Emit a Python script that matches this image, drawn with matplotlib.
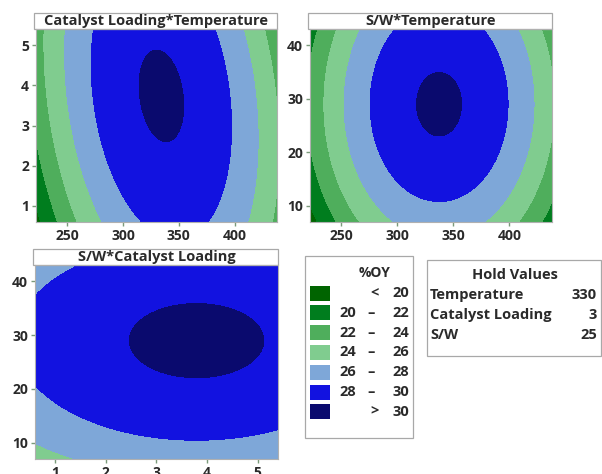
"""
Contour plots of %OY (Minitab-style) for pairs of factors, third factor held.
"""

import numpy as np
import matplotlib.pyplot as plt
from matplotlib.patches import Rectangle

W, H = 602, 474
plt.rcParams['font.family'] = ['Open Sans', 'DejaVu Sans']

# factor ranges shown on the axes
TEMP_RANGE = [222, 438]
CAT_RANGE = [0.6, 5.4]
SW_RANGE = [7, 43]

# coding: centre point and half-width of each factor
CENTER = {"T": 330, "C": 3.0, "S": 25}
SCALE = {"T": 100, "C": 2.4, "S": 18}

# hold values
HOLD_NAMES = ["Temperature", "Catalyst Loading", "S/W"]
HOLD_VALUES = [330, 3, 25]

# quadratic response surface for %OY (coded units)
B0 = 30.1
LINEAR = {"T": 0.85, "C": 0.693, "S": 0.97}
QUAD = {"T": -5.9, "C": -1.05, "S": -2.2}
INTER = {"TC": -1.09, "TS": 0.0, "CS": 0.0}

LEVELS = [20, 22, 24, 26, 28, 30]
COLORS = ["#006400", "#007d1e", "#4fae5c", "#80cc8f", "#7ea7d8", "#1212e0", "#0a0a6e"]
LEG_LO = ["", "20", "22", "24", "26", "28", ""]
LEG_SEP = ["<", "–", "–", "–", "–", "–", ">"]
LEG_HI = ["20", "22", "24", "26", "28", "30", "30"]

TEMP_TICKS = [250, 300, 350, 400]
CAT_TICKS = [1, 2, 3, 4, 5]
SW_TICKS = [10, 20, 30, 40]

TXT = "#2a2a2a"


def oy(T, C, S):
    t = (T - CENTER["T"]) / SCALE["T"]
    c = (C - CENTER["C"]) / SCALE["C"]
    s = (S - CENTER["S"]) / SCALE["S"]
    return (B0 + LINEAR["T"] * t + LINEAR["C"] * c + LINEAR["S"] * s
            + QUAD["T"] * t**2 + QUAD["C"] * c**2 + QUAD["S"] * s**2
            + INTER["TC"] * t * c + INTER["TS"] * t * s + INTER["CS"] * c * s)


def fx(px):
    return px / W


def fy(py):
    return 1 - py / H


fig = plt.figure(figsize=(W / 100, H / 100), dpi=100)

# (title, x-range, y-range, x ticks, y ticks, surface fn, box in px: x0, x1, ytop, ybot)
panels = [
    ("Catalyst Loading*Temperature", TEMP_RANGE, CAT_RANGE, TEMP_TICKS, CAT_TICKS,
     lambda X, Y: oy(X, Y, HOLD_VALUES[2]), (36, 277, 29, 222)),
    ("S/W*Temperature", TEMP_RANGE, SW_RANGE, TEMP_TICKS, SW_TICKS,
     lambda X, Y: oy(X, HOLD_VALUES[1], Y), (310, 552, 29, 222)),
    ("S/W*Catalyst Loading", CAT_RANGE, SW_RANGE, CAT_TICKS, SW_TICKS,
     lambda X, Y: oy(HOLD_VALUES[0], X, Y), (35, 278, 265, 459)),
]

bounds = [-100] + LEVELS + [100]
for title, xr, yr, xt, yt, fn, (x0, x1, yt0, yb0) in panels:
    ax = fig.add_axes([fx(x0), fy(yb0), (x1 - x0) / W, (yb0 - yt0) / H])
    xs = np.linspace(xr[0], xr[1], 300)
    ys = np.linspace(yr[0], yr[1], 300)
    X, Y = np.meshgrid(xs, ys)
    ax.contourf(X, Y, fn(X, Y), levels=bounds, colors=COLORS)
    ax.set_xlim(xr)
    ax.set_ylim(yr)
    ax.set_xticks(xt)
    ax.set_yticks(yt)
    ax.tick_params(length=3, width=1, color="#7a9a7a", labelsize=10, pad=2,
                   labelcolor=TXT)
    for lab in ax.get_xticklabels() + ax.get_yticklabels():
        lab.set_fontweight("bold")
    for sp in ax.spines.values():
        sp.set_color("#b0b0b0")
        sp.set_linewidth(0.8)
    # title strip on top of the plot
    th = 16 / (yb0 - yt0)
    ax.add_patch(Rectangle((-0.01, 1), 1.01, th, transform=ax.transAxes, facecolor="white",
                           edgecolor="#a8a8a8", lw=0.9, clip_on=False))
    ax.text(0.5, 1 + th / 2, title, transform=ax.transAxes, ha="center", va="center",
            fontsize=10.5, fontweight="bold", color=TXT)

# legend box
fig.patches.append(Rectangle((fx(305), fy(438)), (413 - 305) / W, (438 - 256) / H,
                             transform=fig.transFigure, facecolor="white",
                             edgecolor="#a8a8a8", lw=0.9))
fig.text(fx(375), fy(273), "%OY", ha="center", va="center", fontsize=10,
         fontweight="bold", color=TXT)
for i in range(len(COLORS)):
    yc = 293 + 19.8 * i
    fig.patches.append(Rectangle((fx(310), fy(yc + 7.5)), 20 / W, 15 / H,
                                 transform=fig.transFigure, facecolor=COLORS[i],
                                 edgecolor="none"))
    kw = dict(va="center", fontsize=10.5, fontweight="bold", color=TXT)
    if LEG_LO[i]:
        fig.text(fx(339), fy(yc), LEG_LO[i], ha="left", **kw)
        fig.text(fx(371), fy(yc), LEG_SEP[i], ha="center", **kw)
    else:
        fig.text(fx(375), fy(yc), LEG_SEP[i], ha="center", **kw)
    fig.text(fx(409), fy(yc), LEG_HI[i], ha="right", **kw)

# hold values box
fig.patches.append(Rectangle((fx(427), fy(356)), (601 - 427) / W, (356 - 260) / H,
                             transform=fig.transFigure, facecolor="white",
                             edgecolor="#a8a8a8", lw=0.9))
fig.text(fx(515), fy(275), "Hold Values", ha="center", va="center", fontsize=10.5,
         fontweight="bold", color=TXT)
for i, (name, val) in enumerate(zip(HOLD_NAMES, HOLD_VALUES)):
    yc = 295 + 20 * i
    fig.text(fx(430), fy(yc), name, ha="left", va="center", fontsize=10.5,
             fontweight="bold", color=TXT)
    fig.text(fx(597), fy(yc), str(val), ha="right", va="center", fontsize=10.5,
             fontweight="bold", color=TXT)

fig.savefig("out.png", dpi=100)
